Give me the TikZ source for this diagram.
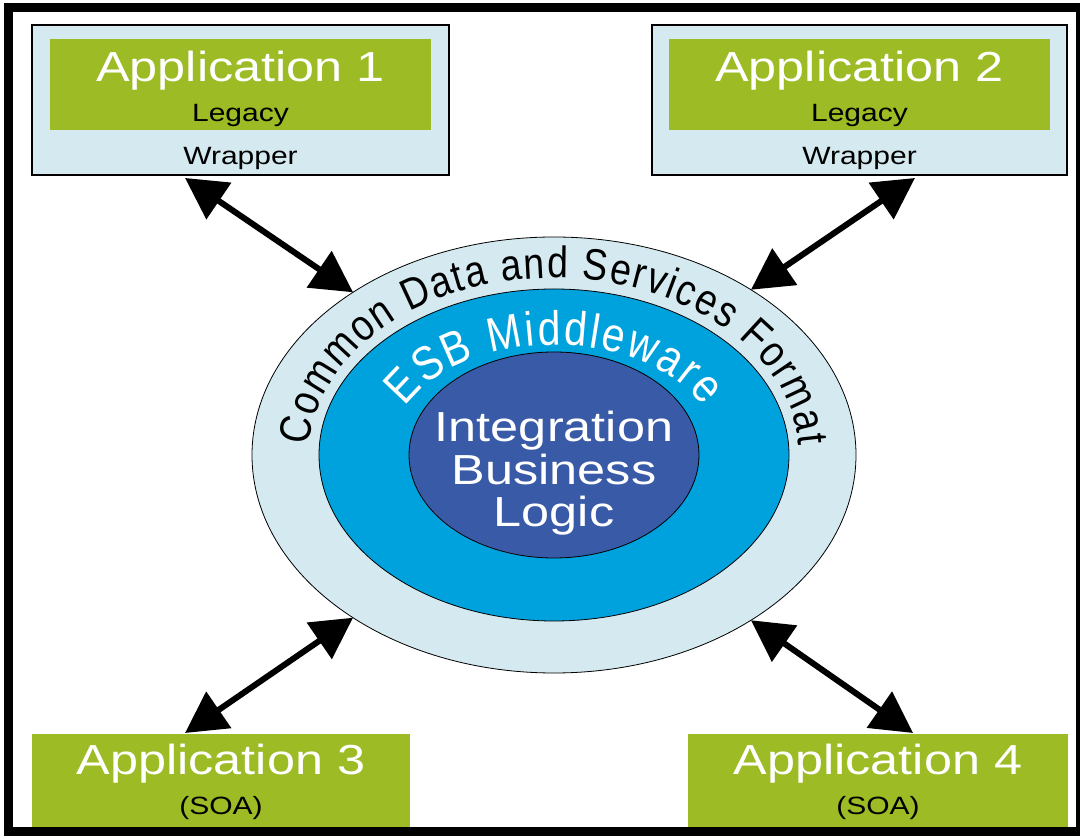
\documentclass[tikz,border=0pt]{standalone}
\usepackage{fontspec}
\setmainfont{Liberation Sans}
\newfontfamily\widefont[FakeStretch=1.2]{Liberation Sans}
\newfontfamily\ringfont[FakeStretch=0.85]{Liberation Sans}
\usetikzlibrary{arrows.meta,shapes.geometric,decorations.text}

\definecolor{appgreen}{RGB}{157,187,36}
\definecolor{paleblue}{RGB}{212,234,240}
\definecolor{esbblue}{RGB}{0,162,222}
\definecolor{coreblue}{RGB}{57,90,166}

\begin{document}
\begin{tikzpicture}[x=1pt,y=1pt,
  wrapbox/.style={draw=black,line width=2.5pt,fill=paleblue,inner sep=0pt,outer sep=0pt},
  greenbox/.style={fill=appgreen,inner sep=0pt,outer sep=0pt},
  ringshape/.style={ellipse,draw=black,line width=0.8pt,inner sep=0pt,outer sep=0pt},
  apptitle/.style={anchor=base,text=white,font=\widefont\fontsize{42}{44}\selectfont,inner sep=0pt},
  applabel/.style={anchor=base,text=black,font=\widefont\fontsize{25}{28}\selectfont,inner sep=0pt},
  coretext/.style={anchor=base,text=white,font=\widefont\fontsize{42}{44}\selectfont,inner sep=0pt},
  link/.style={line width=6pt,{Triangle[length=41pt,width=43pt]}-{Triangle[length=41pt,width=43pt]}}
]
\useasboundingbox (0,0) rectangle (1080,836);
\fill[white] (0,0) rectangle (1080,836);
\draw[line width=9pt] (8,4) rectangle (1080,828);

% legacy applications with their wrappers
\node[wrapbox,minimum width=417pt,minimum height=150pt] (wrap1) at (240.5,736) {};
\node[greenbox,minimum width=381pt,minimum height=91pt] (app1) at (240.5,751.5) {};
\node[apptitle] (t1) at (240.5,754) {Application 1};
\node[applabel] (l1) at (240.5,714) {Legacy};
\node[applabel] (w1) at (240.5,671) {Wrapper};

\node[wrapbox,minimum width=415pt,minimum height=150pt] (wrap2) at (859.5,736) {};
\node[greenbox,minimum width=381pt,minimum height=91pt] (app2) at (859.5,751.5) {};
\node[apptitle] (t2) at (859.5,754) {Application 2};
\node[applabel] (l2) at (859.5,714) {Legacy};
\node[applabel] (w2) at (859.5,671) {Wrapper};

% SOA applications
\node[greenbox,minimum width=378pt,minimum height=93pt] (app3) at (221,55.5) {};
\node[apptitle] (t3) at (221,61) {Application 3};
\node[applabel] (s3) at (221,21) {(SOA)};

\node[greenbox,minimum width=380pt,minimum height=93pt] (app4) at (878,55.5) {};
\node[apptitle] (t4) at (878,61) {Application 4};
\node[applabel] (s4) at (878,21) {(SOA)};

% nested rings
\node[ringshape,fill=paleblue,minimum width=604pt,minimum height=436pt] (ring) at (554,381) {};
\node[ringshape,fill=esbblue,minimum width=470pt,minimum height=332pt] (esb) at (554,381) {};
\node[ringshape,fill=coreblue,minimum width=290pt,minimum height=206pt] (core) at (554,381) {};

\node[coretext] (c1) at (554,394) {Integration};
\node[coretext] (c2) at (554,351) {Business};
\node[coretext] (c3) at (554,309) {Logic};

\path[decorate,decoration={text along path,
    text={|\ringfont\fontsize{44}{46}\selectfont|Common Data and Services Format},
    text align={fit to path}}]
  (554,381) ++(177:245 and 177) arc[start angle=177,end angle=3,x radius=245,y radius=177];

\path[decorate,decoration={text along path,text color=white,
    text={|\ringfont\fontsize{48}{50}\selectfont|ESB Middleware},
    text align={fit to path}}]
  (554,381) ++(154:166 and 110) arc[start angle=154,end angle=26,x radius=166,y radius=110];

% connectors
\coordinate (e1) at (185,658);
\coordinate (e2) at (915,658);
\coordinate (e3) at (185,103);
\coordinate (e4) at (913,103);
\draw[link] (e1) -- (ring.141);
\draw[link] (e2) -- (ring.40);
\draw[link] (e3) -- (ring.219);
\draw[link] (e4) -- (ring.320);
\end{tikzpicture}
\end{document}
